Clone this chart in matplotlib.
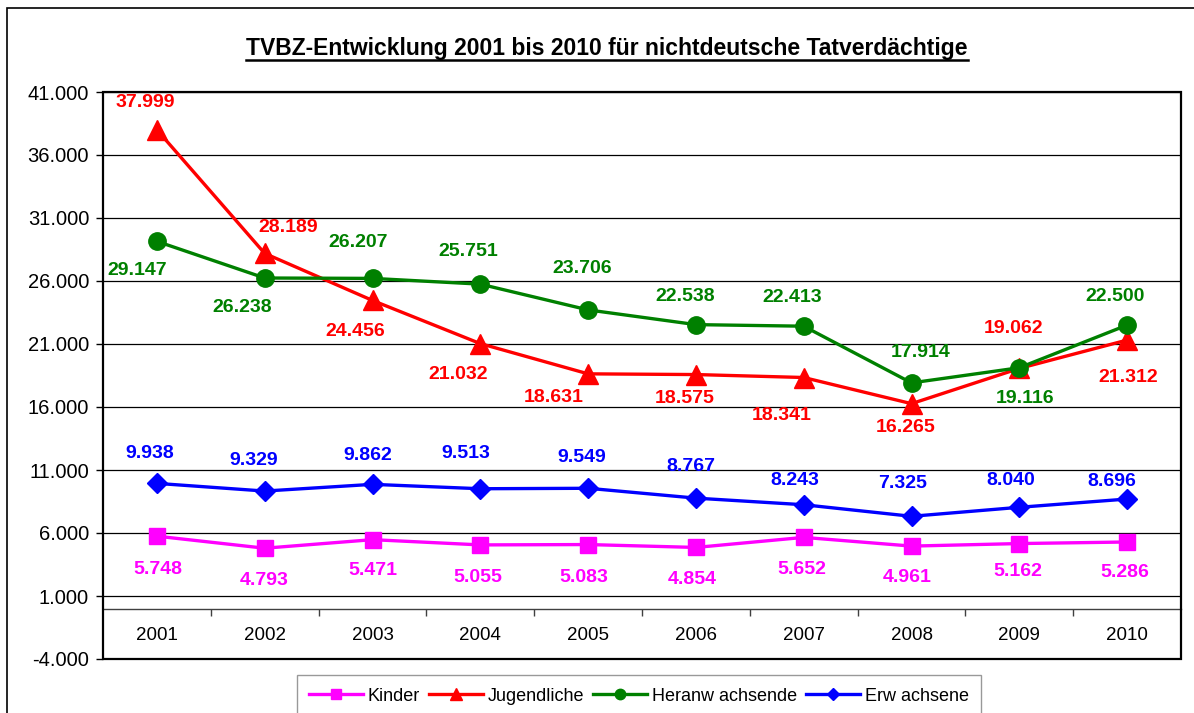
import matplotlib
matplotlib.use("Agg")
import matplotlib.pyplot as plt
from matplotlib.patches import Rectangle
from matplotlib.lines import Line2D
from matplotlib.ticker import FuncFormatter

plt.rcParams['font.family'] = ['Liberation Sans', 'DejaVu Sans']

years = ["2001", "2002", "2003", "2004", "2005", "2006", "2007", "2008", "2009", "2010"]
kinder = [5748, 4793, 5471, 5055, 5083, 4854, 5652, 4961, 5162, 5286]
jugendliche = [37999, 28189, 24456, 21032, 18631, 18575, 18341, 16265, 19062, 21312]
heranwachsende = [29147, 26238, 26207, 25751, 23706, 22538, 22413, 17914, 19116, 22500]
erwachsene = [9938, 9329, 9862, 9513, 9549, 8767, 8243, 7325, 8040, 8696]

# label offsets in pixels (dx right, dy down)
off_kinder = [(1, 33), (-1, 32), (0, 31), (-2, 33), (-4, 33), (-4, 32), (-2, 32), (-4, 31), (-1, 28), (-2, 31)]
off_jug = [(-12, -27), (23, -26), (-17, 31), (-22, 31), (-34, 24), (-11, 24), (-22, 38), (-6, 24), (-6, -40), (1, 37)]
off_her = [(-20, 29), (-23, 29), (-14, -36), (-12, -33), (-6, -41), (-11, -28), (-12, -29), (9, -30), (6, 31), (-12, -29)]
off_erw = [(-7, -30), (-11, -31), (-5, -29), (-14, -35), (-6, -31), (-5, -32), (-9, -24), (-9, -33), (-9, -27), (-15, -18)]

series = [
    ("Kinder", kinder, "#FF00FF", "s", 11, off_kinder),
    ("Jugendliche", jugendliche, "#FF0000", "^", 15, off_jug),
    ("Heranw achsende", heranwachsende, "#008000", "o", 12.5, off_her),
    ("Erw achsene", erwachsene, "#0000FF", "D", 10, off_erw),
]

def de_fmt(v):
    return f"{int(round(v)):,}".replace(",", ".")

fig = plt.figure(figsize=(11.94, 7.13), dpi=100)
ax = fig.add_axes([103/1194, 1-659/713, (1181-103)/1194, (659-92)/713])

x = list(range(len(years)))
for name, vals, col, mk, ms, offs in series:
    ax.plot(x, vals, color=col, lw=2.4, marker=mk, ms=ms, label=name, zorder=3, clip_on=False)
    for xi, v, (dx, dy) in zip(x, vals, offs):
        ax.annotate(de_fmt(v), (xi, v), xytext=(dx, -dy), textcoords="offset pixels",
                    ha="center", va="center", color=col, fontsize=14, fontweight="bold", zorder=4)

ax.set_xlim(-0.5, len(years) - 0.5)
ax.set_ylim(-4000, 41000)
ax.set_yticks(range(-4000, 41001, 5000))
ax.yaxis.set_major_formatter(FuncFormatter(lambda v, p: de_fmt(v)))
ax.yaxis.grid(True, color="black", lw=0.9)
ax.set_axisbelow(True)

for s in ["left", "right", "top"]:
    ax.spines[s].set_visible(False)
ax.spines["bottom"].set_position(("data", 0))
ax.spines["bottom"].set_color("#404040")
ax.spines["bottom"].set_linewidth(1.0)
ax.add_patch(Rectangle((0, 0), 1, 1, transform=ax.transAxes, fill=False,
                       lw=1.6, edgecolor="black", clip_on=False, zorder=5))

ax.set_xticks(x)
ax.set_xticklabels(years)
ax.set_xticks([i + 0.5 for i in x[:-1]], minor=True)
ax.tick_params(axis="x", which="major", length=0, pad=13, labelsize=13.5)
ax.tick_params(axis="x", which="minor", length=5, width=1, color="#404040", direction="out")
ax.tick_params(axis="y", length=5, width=1, direction="out", pad=5, labelsize=14.5)

leg = fig.legend(loc="upper center", bbox_to_anchor=(639/1194, 1-675/713), ncol=4,
                 fontsize=13, frameon=True, fancybox=False, edgecolor="#808080",
                 handlelength=3.0, handletextpad=0.25, columnspacing=0.5, borderpad=0.7,
                 borderaxespad=0, markerscale=0.6)
leg.get_frame().set_linewidth(1.0)

# outer chart border
fig.add_artist(Rectangle((7/1194, -0.2), 1.2, 1.2 - 8/713, transform=fig.transFigure,
                         fill=False, lw=1.2, edgecolor="black"))

title = fig.text(607/1194, 1-49/713, "TVBZ-Entwicklung 2001 bis 2010 für nichtdeutsche Tatverdächtige",
                 ha="center", va="center", fontsize=16.5, fontweight="bold")
fig.canvas.draw()
bb = title.get_window_extent()
uy = bb.y0 + 1
fig.add_artist(Line2D([bb.x0 / fig.bbox.width, bb.x1 / fig.bbox.width],
                      [uy / fig.bbox.height, uy / fig.bbox.height],
                      transform=fig.transFigure, color="black", lw=1.8))

fig.savefig("out.png", dpi=100)
